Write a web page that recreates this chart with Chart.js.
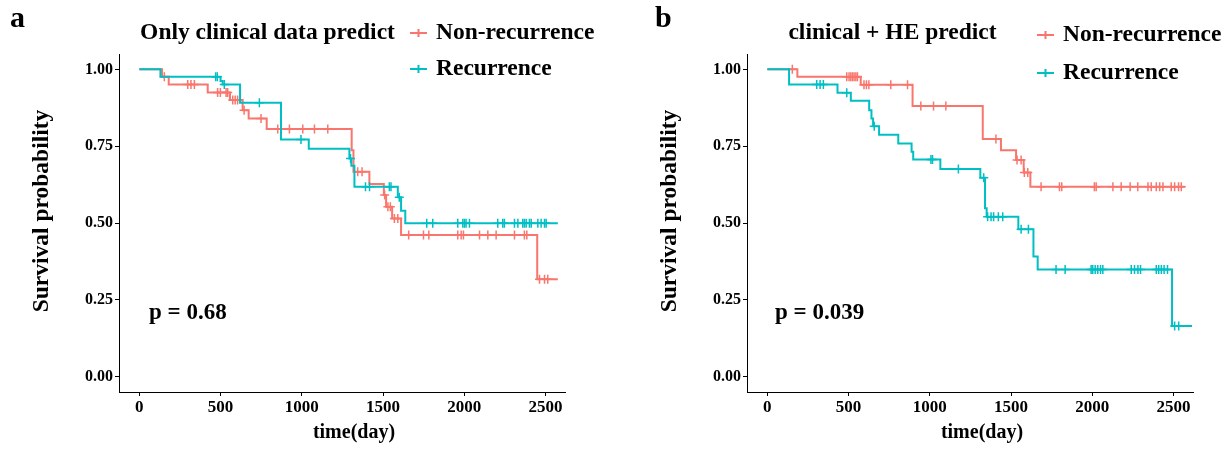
<!DOCTYPE html>
<html>
<head>
<meta charset="utf-8">
<script src="https://cdn.jsdelivr.net/npm/chart.js@4.4.1/dist/chart.umd.min.js"></script>
<style>
  html, body { margin: 0; padding: 0; background: #fff; }
  #wrap { position: relative; width: 1226px; height: 449px; }
  canvas { position: absolute; top: 0; }
</style>
</head>
<body>
<div id="wrap">
  <canvas id="km-a" width="613" height="449" style="left:0"></canvas>
  <canvas id="km-b" width="613" height="449" style="left:613px"></canvas>
</div>
<script>
const RED = '#F8766D';
const TEAL = '#00BFC4';
const FONT = '"Liberation Serif", "Times New Roman", serif';

const groupLabels = ['Non-recurrence', 'Recurrence'];
const xTickValues = [0, 500, 1000, 1500, 2000, 2500];
const yTickValues = [0, 0.25, 0.5, 0.75, 1];

// panel a - only clinical data
const aNonrecTimes = [0, 140, 181, 421, 558, 636, 673, 784, 1307, 1318, 1416, 1505, 1519, 1556, 1611, 2449];
const aNonrecSurv = [1, 0.976, 0.951, 0.925, 0.900, 0.867, 0.840, 0.806, 0.737, 0.667, 0.627, 0.591, 0.553, 0.515, 0.461, 0.317];
const aNonrecCensor = [154, 298, 318, 339, 482, 499, 534, 544, 575, 590, 605, 645, 749, 852, 924, 1006, 1078, 1160,
  1344, 1371, 1510, 1530, 1545, 1570, 1591, 1658, 1749, 1782, 1960, 1981, 1995, 2094, 2145, 2196, 2309, 2370, 2385,
  2463, 2494, 2514];
const aNonrecEnd = 2576;

const aRecTimes = [0, 130, 500, 513, 620, 872, 1043, 1293, 1305, 1324, 1591, 1611, 1637];
const aRecSurv = [1, 0.976, 0.962, 0.951, 0.891, 0.772, 0.742, 0.710, 0.686, 0.618, 0.584, 0.540, 0.499];
const aRecCensor = [470, 480, 523, 739, 995, 1300, 1392, 1417, 1539, 1549, 1600, 1769, 1806, 1960, 1991, 2001, 2011,
  2032, 2206, 2237, 2247, 2309, 2330, 2360, 2370, 2381, 2401, 2412, 2453, 2473, 2494, 2504];
const aRecEnd = 2576;

// panel b - clinical + HE
const bNonrecTimes = [0, 185, 575, 894, 1326, 1438, 1531, 1578, 1619];
const bNonrecSurv = [1, 0.976, 0.950, 0.881, 0.773, 0.737, 0.705, 0.664, 0.618];
const bNonrecCensor = [154, 489, 503, 514, 524, 534, 545, 555, 595, 610, 625, 760, 863, 945, 1023, 1099, 1407, 1537,
  1562, 1582, 1603, 1685, 1798, 1812, 2013, 2024, 2127, 2178, 2233, 2280, 2343, 2363, 2394, 2415, 2435, 2486, 2507,
  2531, 2548];
const bNonrecEnd = 2569;

const bRecTimes = [0, 134, 432, 514, 627, 641, 651, 688, 806, 888, 898, 1065, 1311, 1340, 1350, 1545, 1638, 1664, 2491];
const bRecSurv = [1, 0.951, 0.924, 0.898, 0.867, 0.840, 0.815, 0.787, 0.759, 0.732, 0.707, 0.676, 0.647, 0.548, 0.520,
  0.480, 0.391, 0.349, 0.165];
const bRecCensor = [304, 325, 345, 489, 658, 1007, 1017, 1176, 1332, 1356, 1377, 1393, 1422, 1449, 1562, 1607, 1777,
  1833, 1993, 2003, 2018, 2034, 2051, 2065, 2240, 2260, 2281, 2297, 2394, 2409, 2425, 2442, 2463, 2507, 2532];
const bRecEnd = 2614;

// step curve points, censored ones get a "+" mark
function buildCurve(times, surv, censor, end) {
  const pts = times.map((t, i) => ({ x: t, y: surv[i], c: false }));
  censor.forEach(t => {
    let s = surv[0];
    for (let i = 0; i < times.length; i++) if (times[i] <= t) s = surv[i];
    pts.push({ x: t, y: s, c: true });
  });
  pts.push({ x: end, y: surv[surv.length - 1], c: false });
  pts.sort((a, b) => a.x - b.x);
  return pts;
}

function curveDataset(label, color, pts) {
  return {
    label,
    data: pts,
    borderColor: color,
    backgroundColor: color,
    borderWidth: 2,
    stepped: true,
    fill: false,
    pointStyle: 'cross',
    pointBorderColor: color,
    pointBorderWidth: 1.5,
    pointRadius: pts.map(p => p.c ? 4.5 : 0),
    pointHoverRadius: 0
  };
}

const panelText = {
  id: 'panelText',
  afterDraw(chart, args, o) {
    const { ctx, chartArea: ca } = chart;
    ctx.save();
    ctx.fillStyle = '#000';

    ctx.font = `bold 30px ${FONT}`;
    ctx.textAlign = 'left';
    ctx.textBaseline = 'alphabetic';
    ctx.fillText(o.letter, o.letterX, 27);

    ctx.font = `bold 23.5px ${FONT}`;
    ctx.textAlign = 'center';
    ctx.textBaseline = 'middle';
    ctx.fillText(o.title, o.titleX, 33);

    // legend
    const colors = [RED, TEAL];
    groupLabels.forEach((lab, i) => {
      const y = o.legendY[i];
      ctx.strokeStyle = colors[i];
      ctx.lineWidth = 2;
      ctx.beginPath();
      ctx.moveTo(o.legendX, y); ctx.lineTo(o.legendX + 17, y);
      ctx.moveTo(o.legendX + 8.5, y - 4); ctx.lineTo(o.legendX + 8.5, y + 4);
      ctx.stroke();
      ctx.fillStyle = '#000';
      ctx.textAlign = 'left';
      ctx.fillText(lab, o.legendX + 26, y);
    });

    ctx.font = `bold 23px ${FONT}`;
    ctx.fillText(o.pText, ca.left + o.pOffset, 313);

    // axis titles
    ctx.font = `bold 20px ${FONT}`;
    ctx.textAlign = 'center';
    ctx.fillText('time(day)', ca.left + 235, 433);
    ctx.font = `bold 23.5px ${FONT}`;
    ctx.translate(ca.left - 77, 211);
    ctx.rotate(-Math.PI / 2);
    ctx.fillText('Survival probability', 0, 0);
    ctx.restore();
  }
};

function makePanel(id, curves, o) {
  const tickFont = { family: FONT, size: 16, weight: 'bold' };
  new Chart(document.getElementById(id), {
    type: 'line',
    data: { datasets: curves },
    options: {
      responsive: false,
      animation: false,
      parsing: false,
      layout: { padding: { left: 0, right: o.padRight, top: 54, bottom: 0 } },
      plugins: {
        legend: { display: false },
        tooltip: { enabled: false },
        panelText: o
      },
      scales: {
        x: {
          type: 'linear',
          min: -125,
          max: 2620,
          afterBuildTicks: s => { s.ticks = xTickValues.map(v => ({ value: v })); },
          afterFit: s => { s.height = 57; },
          grid: { drawOnChartArea: false, drawTicks: true, tickLength: 4, color: '#000', lineWidth: 1 },
          border: { display: true, color: '#000', width: 1 },
          ticks: { color: '#000', font: { family: FONT, size: 17, weight: 'bold' }, padding: 1,
            maxRotation: 0, autoSkip: false, callback: v => String(v) }
        },
        y: {
          min: -0.05,
          max: 1.05,
          afterBuildTicks: s => { s.ticks = yTickValues.map(v => ({ value: v })); },
          afterFit: s => { s.width = o.yWidth; },
          grid: { drawOnChartArea: false, drawTicks: true, tickLength: 4, color: '#000', lineWidth: 1 },
          border: { display: true, color: '#000', width: 1 },
          ticks: { color: '#000', font: tickFont, padding: 2, callback: v => v.toFixed(2) }
        }
      }
    },
    plugins: [panelText]
  });
}

makePanel('km-a', [
  curveDataset(groupLabels[1], TEAL, buildCurve(aRecTimes, aRecSurv, aRecCensor, aRecEnd)),
  curveDataset(groupLabels[0], RED, buildCurve(aNonrecTimes, aNonrecSurv, aNonrecCensor, aNonrecEnd))
], {
  letter: 'a', letterX: 10, title: 'Only clinical data predict', titleX: 267.5,
  legendX: 410, legendY: [33, 69], pText: 'p = 0.68', pOffset: 30,
  padRight: 48, yWidth: 119
});

makePanel('km-b', [
  curveDataset(groupLabels[1], TEAL, buildCurve(bRecTimes, bRecSurv, bRecCensor, bRecEnd)),
  curveDataset(groupLabels[0], RED, buildCurve(bNonrecTimes, bNonrecSurv, bNonrecCensor, bNonrecEnd))
], {
  letter: 'b', letterX: 42, title: 'clinical + HE predict', titleX: 279.5,
  legendX: 424, legendY: [35, 73], pText: 'p = 0.039', pOffset: 28,
  padRight: 33, yWidth: 134
});
</script>
</body>
</html>
